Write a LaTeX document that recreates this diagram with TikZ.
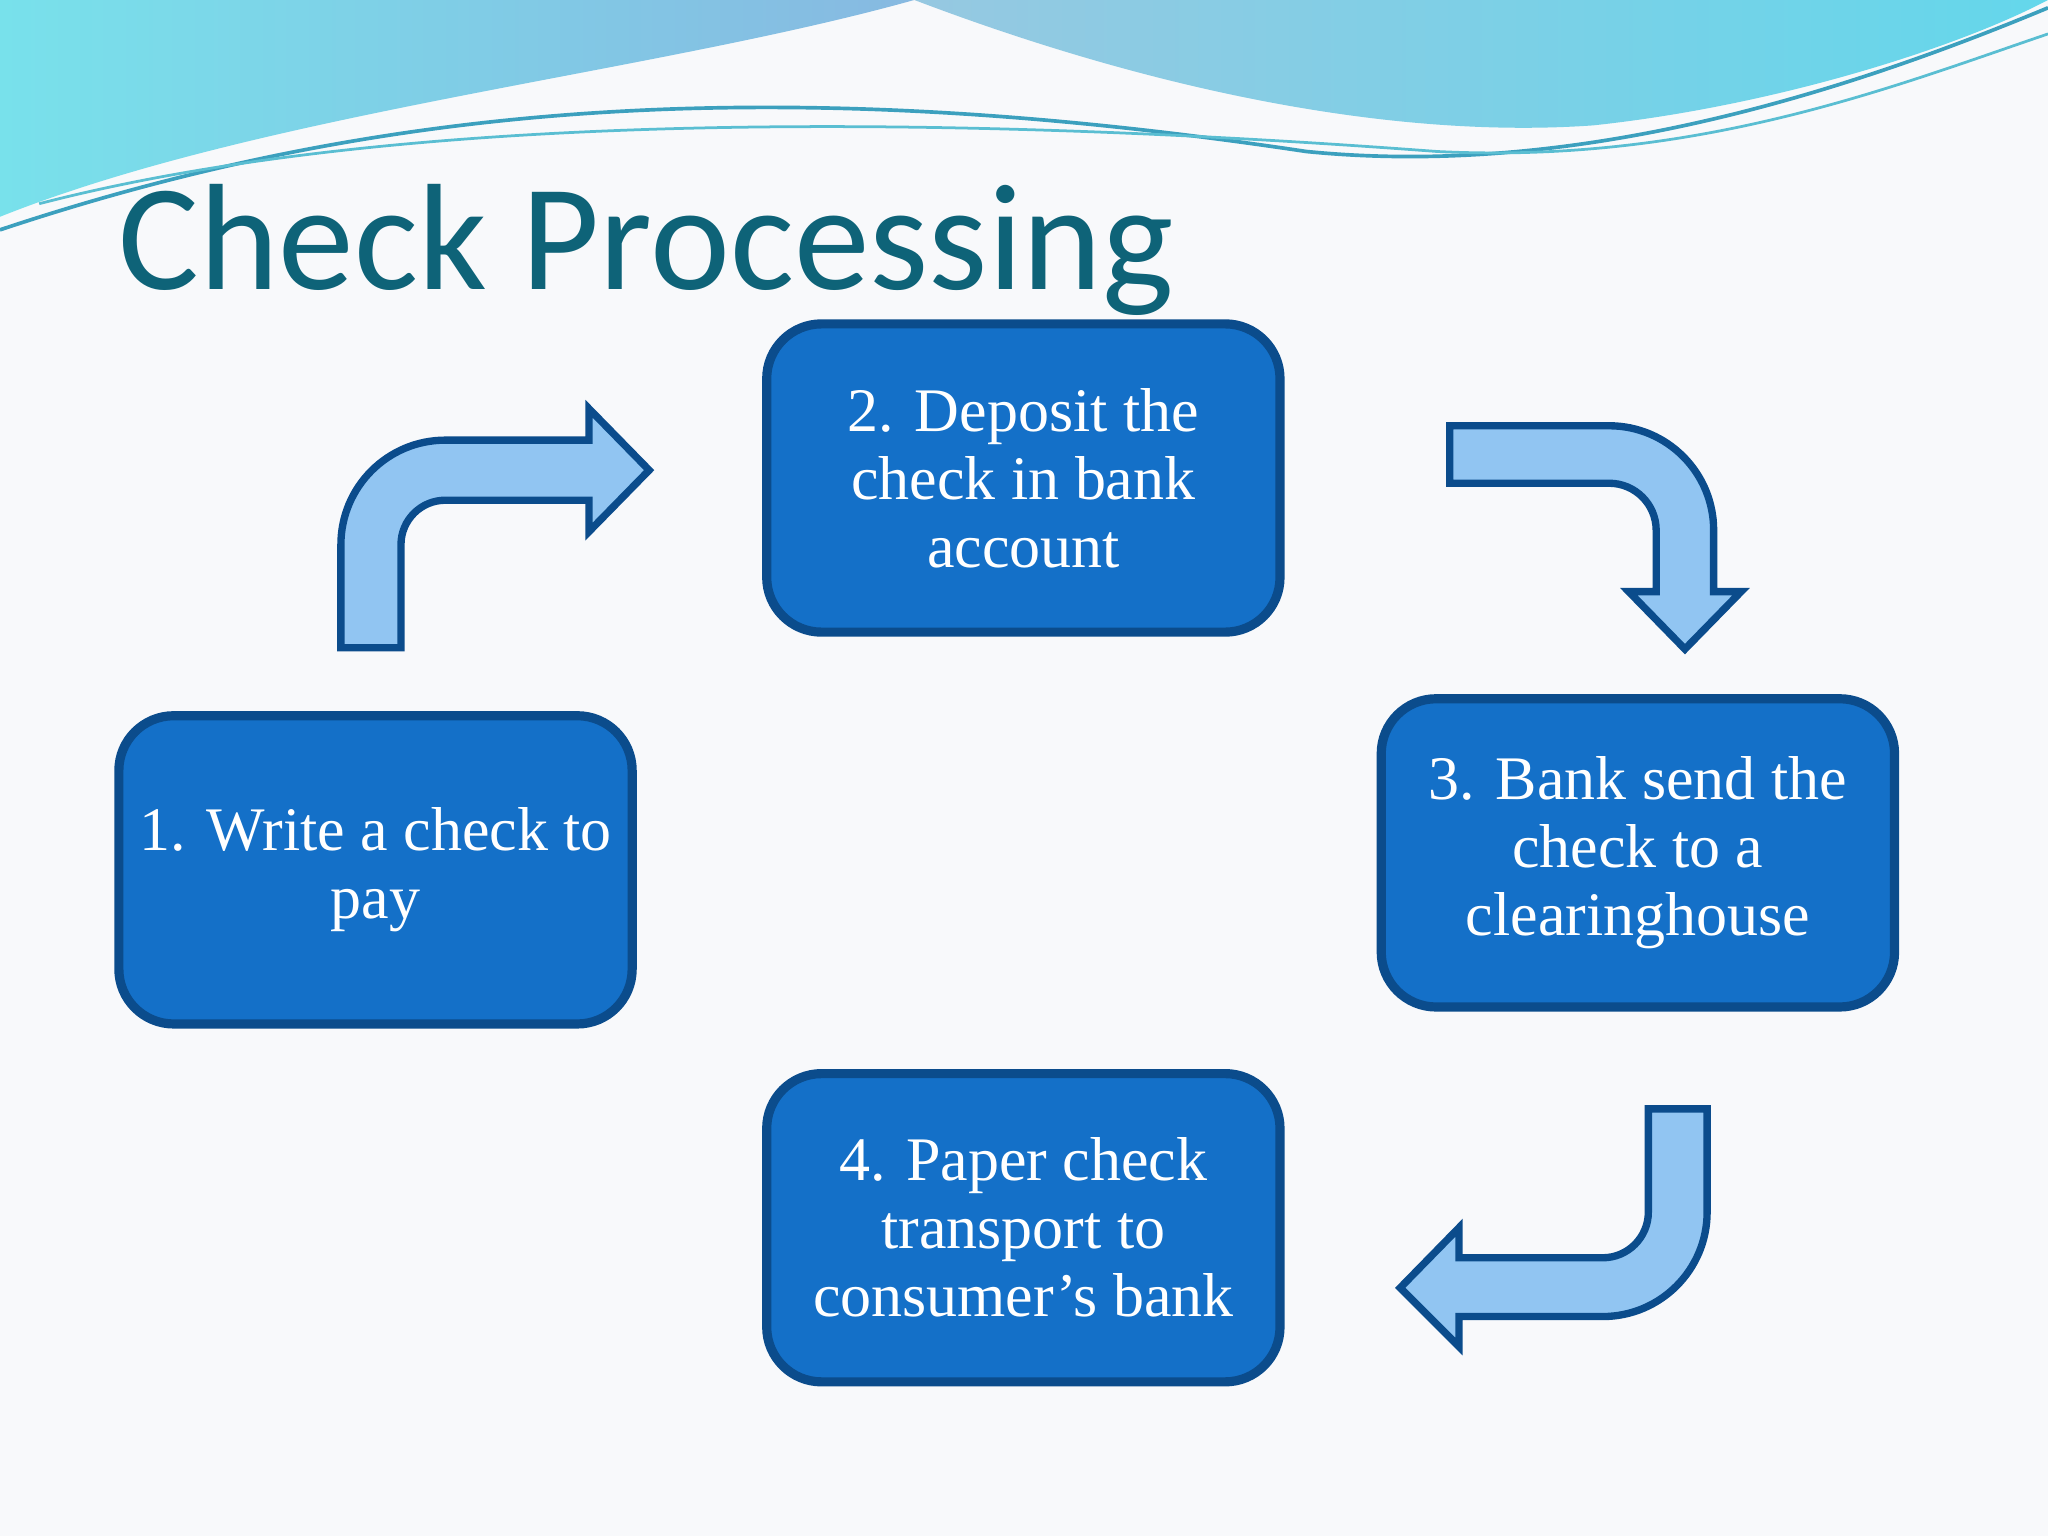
\documentclass[tikz,border=0pt]{standalone}
\usepackage{fontspec}
\setmainfont{Liberation Serif}
\newfontfamily\titlefont{Carlito}
\definecolor{boxfill}{HTML}{1470C8}
\definecolor{boxline}{HTML}{0B4C8C}
\definecolor{arrfill}{HTML}{91C5F2}
\definecolor{titlecol}{HTML}{0E6378}
\tikzset{
 stepbox/.style={draw=boxline,line width=2pt,fill=boxfill,rounded corners=0.42cm,minimum width=3.93cm,minimum height=2.36cm,text=white,align=center,font=\fontsize{13.5pt}{14.8pt}\selectfont,inner sep=0pt},
 blockarrow/.style={draw=boxline,line width=1.6pt,fill=arrfill,line join=miter}
}
\begin{document}
\begin{tikzpicture}
\fill[color={rgb,255:red,248;green,249;blue,251}] (0,0) rectangle (15.68,11.76);
\useasboundingbox (0,0) rectangle (15.68,11.76);
% top waves
\shade[left color={rgb,255:red,120;green,225;blue,235},right color={rgb,255:red,135;green,185;blue,225}]
 (0,11.76) -- (7.0,11.76) .. controls (5,11.2) and (2,10.9) .. (0,10.1) -- cycle;
\shade[left color={rgb,255:red,150;green,200;blue,225},right color={rgb,255:red,100;green,215;blue,235}]
 (7.0,11.76) .. controls (9,11.0) and (10.8,10.7) .. (12.2,10.8) .. controls (13.6,10.95) and (15,11.4) .. (15.68,11.76) -- cycle;
\draw[color={rgb,255:red,60;green,160;blue,190},line width=0.8pt] (0,10.0) .. controls (3,11.0) and (6,11.2) .. (10,10.6) .. controls (12,10.4) and (14,11.0) .. (15.68,11.7);
\draw[color={rgb,255:red,90;green,190;blue,210},line width=0.6pt] (0.3,10.2) .. controls (3,10.9) and (7,10.9) .. (11,10.6) .. controls (13,10.5) and (14.5,11.1) .. (15.68,11.5);
% title
\node[anchor=base west,inner sep=0pt,text=titlecol,font=\titlefont\fontsize{33pt}{36pt}\selectfont] (title) at (0.9,9.54) {Check Processing};
% boxes
\node[stepbox] (b1) at (2.875,5.10) {1. Write a check to\\pay};
\node[stepbox] (b2) at (7.835,8.10) {2. Deposit the\\check in bank\\account};
\node[stepbox] (b3) at (12.54,5.23) {3. Bank send the\\check to a\\clearinghouse};
\node[stepbox] (b4) at (7.835,2.36) {4. Paper check\\transport to\\consumer’s bank};
% arrows
\draw[blockarrow] (2.61,6.80) -- (2.61,7.59) arc[start angle=180,end angle=90,radius=0.8] -- (4.51,8.39) -- (4.51,8.63) -- (4.97,8.16) -- (4.51,7.69) -- (4.51,7.93) -- (3.41,7.93) arc[start angle=90,end angle=180,radius=0.34] -- (3.07,6.80) -- cycle;
\draw[blockarrow] (11.10,8.50) -- (12.32,8.50) arc[start angle=90,end angle=0,radius=0.8] -- (13.12,7.23) -- (13.33,7.23) -- (12.90,6.79) -- (12.47,7.23) -- (12.68,7.23) -- (12.68,7.70) arc[start angle=0,end angle=90,radius=0.36] -- (11.10,8.06) -- cycle;
\draw[blockarrow] (12.62,3.27) -- (13.07,3.27) -- (13.07,2.48) arc[start angle=0,end angle=-90,radius=0.8] -- (11.17,1.68) -- (11.17,1.45) -- (10.72,1.90) -- (11.17,2.36) -- (11.17,2.13) -- (12.27,2.13) arc[start angle=-90,end angle=0,radius=0.35] -- cycle;
\end{tikzpicture}
\end{document}
